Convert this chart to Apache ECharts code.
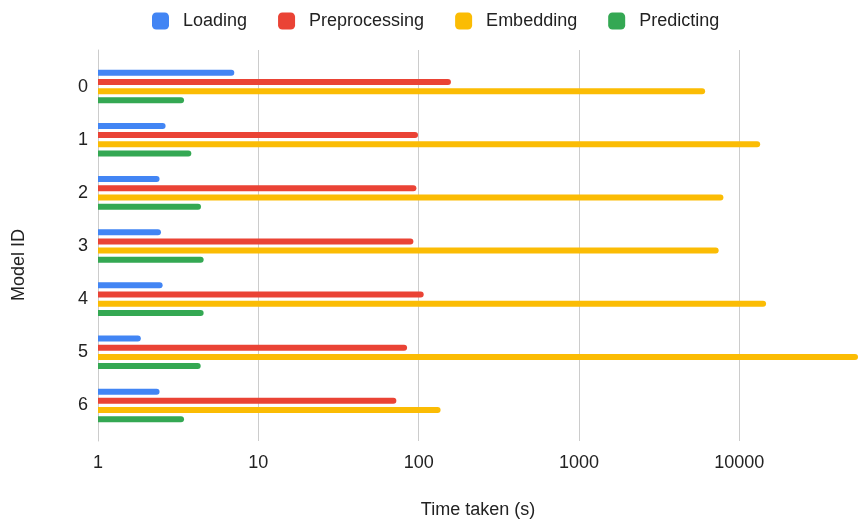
<!DOCTYPE html>
<html>
<head>
<meta charset="utf-8">
<title>Time taken per stage</title>
<script src="https://cdn.jsdelivr.net/npm/echarts@6/dist/echarts.min.js"></script>
<style>
  html, body { margin: 0; padding: 0; background: #fff; }
  #chart { width: 858px; height: 520px; }
</style>
</head>
<body>
<div id="chart"></div>
<script>
// Model IDs on the vertical axis
const modelIds = ['0', '1', '2', '3', '4', '5', '6'];

// Seconds spent in each stage, per model
const loading       = [7.08, 2.64, 2.42, 2.47, 2.53, 1.85, 2.42];
const preprocessing = [159, 99.1, 96.8, 92.7, 107.5, 84.7, 72.6];
const embedding     = [6120, 13490, 7960, 7435, 14690, 60000, 137];
const predicting    = [3.44, 3.82, 4.39, 4.56, 4.56, 4.37, 3.44];

const stageNames  = ['Loading', 'Preprocessing', 'Embedding', 'Predicting'];
const stageColors = ['#4285F4', '#EA4335', '#FBBC04', '#34A853'];
const stageValues = [loading, preprocessing, embedding, predicting];

// Log axis range (seconds)
const xMin = 1;
const xMax = 55000;

const font = "'Liberation Sans', Arial, sans-serif";
const textColor = '#222';

const chart = echarts.init(document.getElementById('chart'), null, { renderer: 'canvas' });

const series = stageNames.map((name, i) => ({
  name: name,
  type: 'bar',
  xAxisIndex: 0,
  yAxisIndex: 0,
  data: stageValues[i],
  barWidth: 6,
  barGap: '53%',
  itemStyle: { color: stageColors[i], borderRadius: [0, 3, 3, 0] }
}));

chart.setOption({
  animation: false,
  backgroundColor: '#fff',
  textStyle: { fontFamily: font },
  color: stageColors,
  legend: {
    data: stageNames,
    top: 7,
    left: 147,
    icon: 'roundRect',
    itemWidth: 17,
    itemHeight: 17,
    itemGap: 31,
    textStyle: { fontFamily: font, fontSize: 18, color: textColor, padding: [0, 0, 0, 9] }
  },
  grid: [
    // bars
    { left: 98, right: 0, top: 60, height: 372, containLabel: false, outerBoundsMode: 'none' },
    // gridlines and axis labels
    { left: 98, right: 0, top: 50, height: 391, containLabel: false, outerBoundsMode: 'none' }
  ],
  xAxis: [
    {
      gridIndex: 0,
      type: 'log',
      logBase: 10,
      min: xMin,
      max: xMax,
      axisLine: { show: false },
      axisTick: { show: false },
      axisLabel: { show: false },
      splitLine: { show: false }
    },
    {
      gridIndex: 1,
      type: 'log',
      logBase: 10,
      min: xMin,
      max: xMax,
      axisLine: { show: false },
      axisTick: { show: false },
      axisLabel: {
        fontFamily: font, fontSize: 18, color: textColor, margin: 13,
        showMaxLabel: false,
        formatter: (v) => String(Math.round(v))
      },
      splitLine: { show: true, lineStyle: { color: '#cccccc', width: 1 } },
      name: 'Time taken (s)',
      nameLocation: 'middle',
      nameGap: 60,
      nameTextStyle: { fontFamily: font, fontSize: 18, color: textColor }
    }
  ],
  yAxis: [
    {
      gridIndex: 0,
      type: 'category',
      inverse: true,
      data: modelIds,
      axisLine: { show: false },
      axisTick: { show: false },
      axisLabel: { fontFamily: font, fontSize: 18, color: textColor, margin: 10 },
      splitLine: { show: false },
      name: 'Model ID',
      nameLocation: 'middle',
      nameRotate: 90,
      nameGap: 70,
      nameTextStyle: { fontFamily: font, fontSize: 18, color: textColor, padding: [0, 38, 0, 0] }
    },
    {
      gridIndex: 1,
      type: 'value',
      axisLine: { show: true, lineStyle: { color: '#cccccc', width: 1 } },
      axisTick: { show: false },
      axisLabel: { show: false },
      splitLine: { show: false }
    }
  ],
  series: series
});
</script>
</body>
</html>
